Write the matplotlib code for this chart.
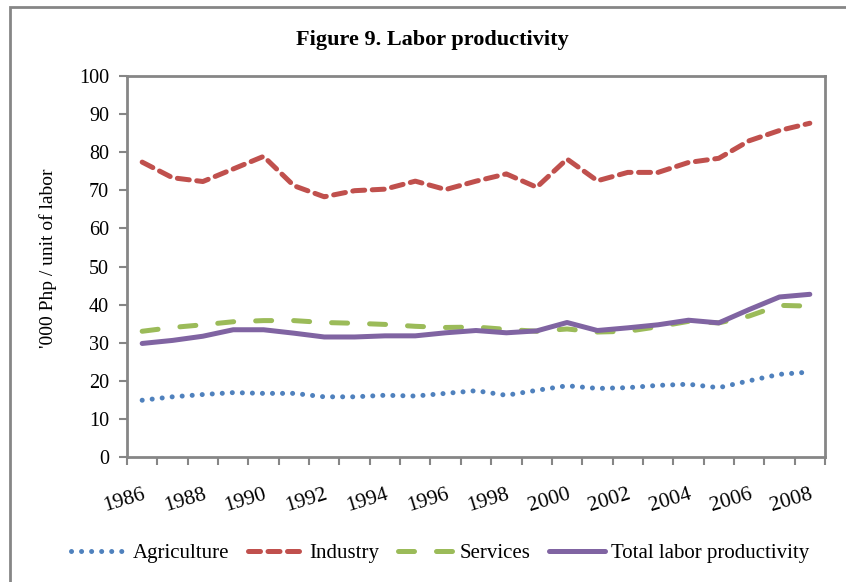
import matplotlib
matplotlib.use('Agg')
import matplotlib.pyplot as plt
from matplotlib.patches import Rectangle

#
# DATA
#
years = list(range(1986, 2009))
agriculture = [14.9, 15.8, 16.4, 16.9, 16.7, 16.7, 15.8, 15.8, 16.2, 16.0, 16.7, 17.4,
               16.2, 17.5, 18.7, 18.0, 18.2, 18.8, 19.1, 18.2, 20.0, 21.7, 22.3]
industry = [77.4, 73.3, 72.3, 75.6, 78.9, 71.2, 68.3, 69.9, 70.3, 72.4, 70.2, 72.4,
            74.3, 70.8, 78.2, 72.5, 74.7, 74.7, 77.3, 78.4, 83.0, 85.7, 87.6]
services = [33.0, 34.0, 34.7, 35.5, 35.8, 35.8, 35.3, 35.1, 34.8, 34.3, 34.0, 34.1,
            33.5, 33.0, 33.6, 32.8, 33.0, 34.2, 35.6, 35.2, 37.0, 39.8, 39.6]
total = [29.8, 30.6, 31.7, 33.4, 33.4, 32.5, 31.5, 31.5, 31.8, 31.8, 32.6, 33.2,
         32.6, 33.1, 35.3, 33.2, 33.9, 34.7, 35.9, 35.2, 38.7, 42.0, 42.7]

series_names = ['Agriculture', 'Industry', 'Services', 'Total labor productivity']

GREY = '#868686'
SERIF = ['Liberation Serif', 'DejaVu Serif']
plt.rcParams['font.family'] = SERIF

fig = plt.figure(figsize=(8.46, 5.82), dpi=100)
W, H = 846.0, 582.0
ax = fig.add_axes([127 / W, 1 - 457 / H, (825 - 127) / W, (457 - 76) / H])

x = list(range(len(years)))
lw = 3.6

ax.plot(x, agriculture, color='#4F81BD', lw=lw, linestyle=(0, (0.01, 2.0)),
        dash_capstyle='round', label=series_names[0])
ax.plot(x, industry, color='#C0504D', lw=lw, linestyle=(0, (2.4, 1.5)),
        dash_capstyle='round', label=series_names[1])
ax.plot(x, services, color='#9BBB59', lw=lw, linestyle=(0, (3.2, 4.4)),
        dash_capstyle='round', label=series_names[2])
ax.plot(x, total, color='#8064A2', lw=lw, solid_capstyle='round',
        solid_joinstyle='round', label=series_names[3])

ax.set_xlim(-0.5, len(years) - 0.5)
ax.set_ylim(0, 100)

# y axis
ax.set_yticks(range(0, 101, 10))
ax.tick_params(axis='y', direction='out', length=6, width=1.5, color=GREY,
               pad=7, labelsize=14.5)
ax.set_ylabel("'000 Php / unit of labor", fontsize=14)
ax.yaxis.set_label_coords(-70 / (825 - 127), (457 - 258) / (457 - 76))

# x axis: tick marks between categories, labels on every other year
ax.set_xticks([i - 0.5 for i in range(len(years) + 1)], minor=True)
ax.set_xticks(x[::2])
ax.set_xticklabels([str(y) for y in years[::2]], rotation=17, ha='right',
                   rotation_mode='anchor', fontsize=15.5)
ax.tick_params(axis='x', which='major', length=0, pad=20)
ax.tick_params(axis='x', which='minor', direction='out', length=6, width=1.5,
               color=GREY)

for sp in ax.spines.values():
    sp.set_color(GREY)
    sp.set_linewidth(2)

fig.text(432 / W, 1 - 40 / H, 'Figure 9. Labor productivity', ha='center',
         va='center', fontsize=16, fontweight='bold')

leg = fig.legend(loc='center', bbox_to_anchor=(440 / W, 1 - 553 / H), ncol=4,
                 frameon=False, fontsize=15, handlelength=2.7,
                 handletextpad=0.25, columnspacing=0.9, borderaxespad=0)

# chart area border
fig.patches.append(Rectangle((10 / W, -0.1), 1.2, 1 - 7 / H + 0.1,
                             transform=fig.transFigure, fill=False,
                             edgecolor=GREY, linewidth=2))

fig.savefig('out.png', dpi=100)
